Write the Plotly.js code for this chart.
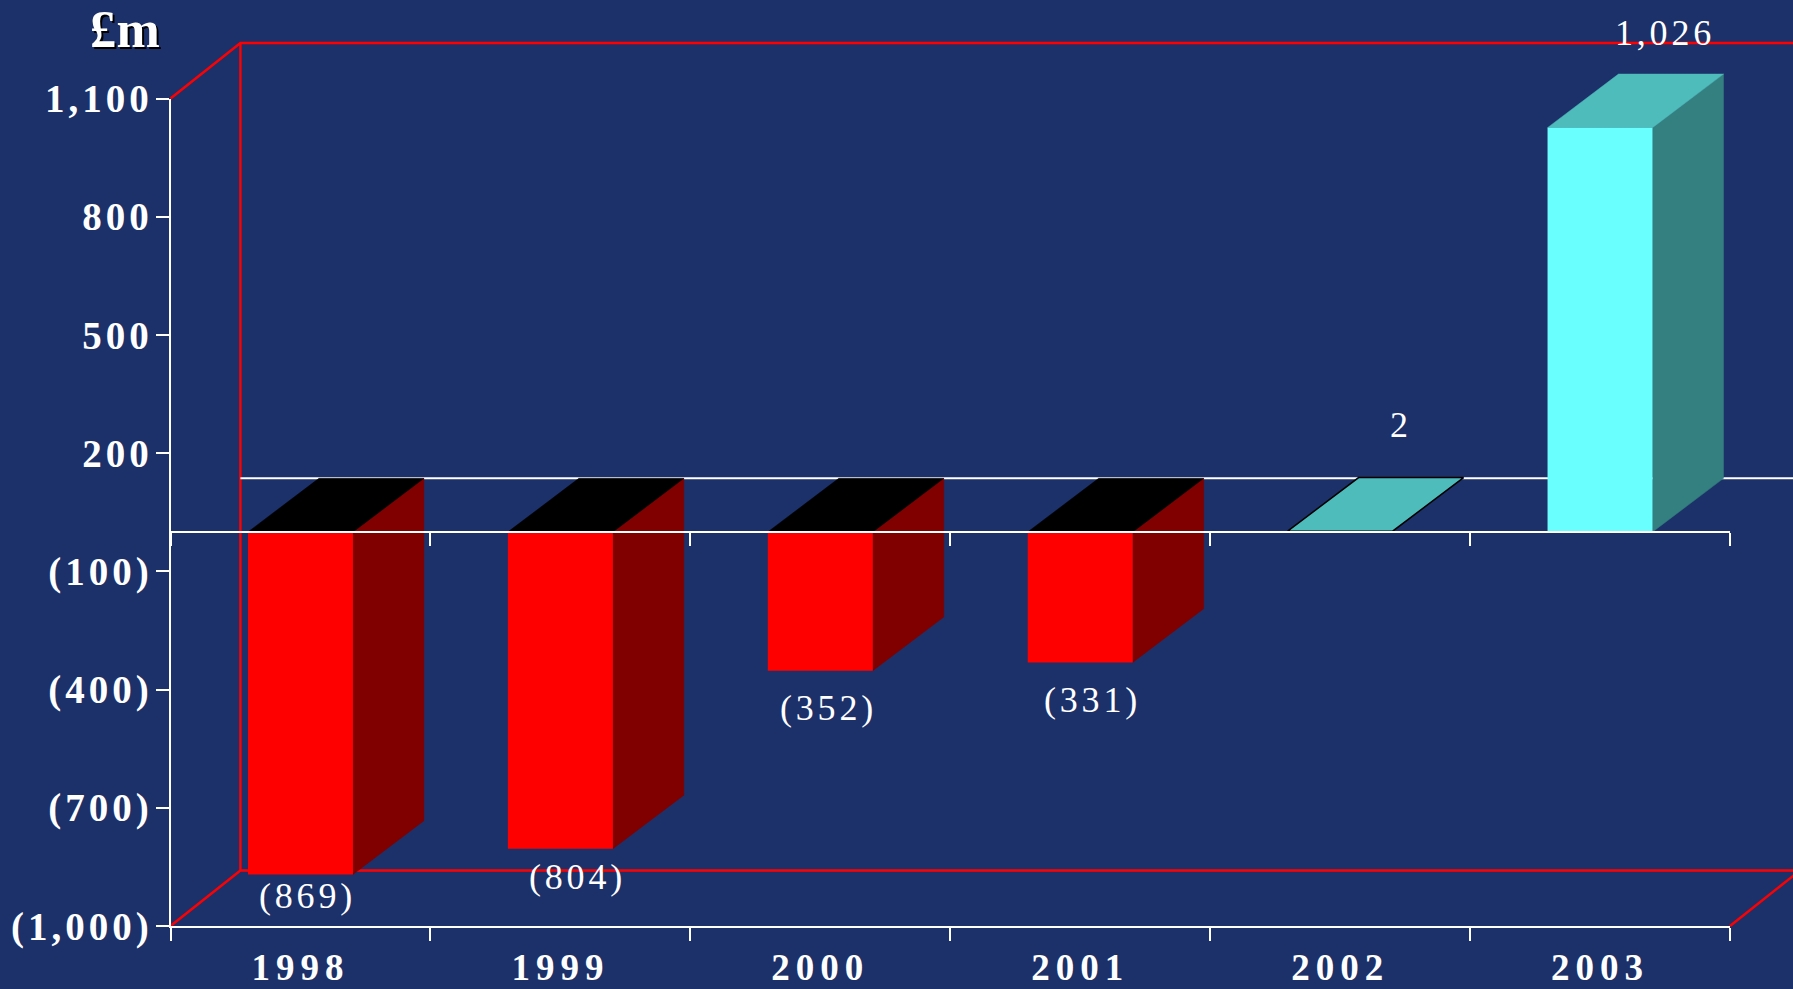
<!DOCTYPE html>
<html>
<head>
<meta charset="utf-8">
<script src="https://cdn.plot.ly/plotly-3.0.1.min.js"></script>
<style>
html,body{margin:0;padding:0;background:#1c3169;overflow:hidden}
.ytick text,.y3tick text{letter-spacing:4px}
.xtick text,.x3tick text{letter-spacing:6px}
.annotation-text{letter-spacing:3.8px}
</style>
</head>
<body>
<div id="chart" style="width:1793px;height:989px"></div>
<script>
var categories = ['1998','1999','2000','2001','2002','2003'];
var values = [-869,-804,-352,-331,2,1026];
var yTicks = [1100,800,500,200,-100,-400,-700,-1000];

// label nudges relative to the end of each bar (axis units)
var labelDx = [0.027,0.065,0.03,0.047,0.235,0.25];
var labelDy = [-54,-71,-96,-96,270,241];

function fmt(v){
  var s = Math.abs(v).toString().replace(/\B(?=(\d{3})+$)/g,',');
  return v < 0 ? '('+s+')' : s;
}

var BG='#1c3169', WHITE='#ffffff', RED='#ff0000';
var W=1793,H=989,L=170.5,R=63,T=98.5,B=63;
var xMin=-0.5,xMax=5.5,yMin=-1000,yMax=1100;
var ppx=(W-L-R)/(xMax-xMin), ppy=(H-T-B)/(yMax-yMin);
var wideX=[xMin-L/ppx,xMin+(W-L)/ppx], wideY=[yMin-B/ppy,yMax+T/ppy];
var domX=[L/W,1-R/W], domY=[B/H,1-T/H];
var barW=0.404, depthX=0.273, depthY=136, frameX=0.269, frameY=141;
var edge=wideX[1]+0.1;
var idx=categories.map(function(c,i){return i;});
var bounds=idx.map(function(i){return i-0.5;}).concat(xMax);

function line(x,y,color,w){
  return {type:'scatter',mode:'lines',x:x,y:y,xaxis:'x',yaxis:'y',
    line:{color:color,width:w},hoverinfo:'skip',showlegend:false};
}
function face(x,y,fill,lc,lw){
  return {type:'scatter',mode:'lines',x:x.concat(x[0]),y:y.concat(y[0]),fill:'toself',fillcolor:fill,
    xaxis:'x2',yaxis:'y2',line:{color:lc,width:lw},hoverinfo:'skip',showlegend:false};
}

var traces=[];
// back wall: bottom layer, on a page-wide pair of axes with the same scale as the chart axes
var fx=xMin+frameX, fTop=yMax+frameY, fBot=yMin+frameY;
traces.push(line([fx,fx],[fBot,fTop],RED,2.4));
traces.push(line([xMin,fx,edge],[yMax,fTop,fTop],RED,2.4));
traces.push(line([xMin,fx,edge],[yMin,fBot,fBot],RED,2.4));
traces.push(line([xMax,xMax+frameX],[yMin,fBot],RED,2.4));
traces.push(line([fx,edge],[depthY,depthY],WHITE,2));

// side and top faces: middle layer
values.forEach(function(v,i){
  var l=i-barW/2, r=i+barW/2, neg=v<0, t=Math.max(v,0);
  var small=Math.abs(v)<10;
  if(!small) traces.push(face([r,r+depthX,r+depthX,r],[0,depthY,v+depthY,v],
    neg?'#800000':'#347f7f',neg?'#800000':'#347f7f',0.5));
  traces.push(face([l,l+depthX,r+depthX,r],[t,t+depthY,t+depthY,t],
    neg?'#000000':'#4fbcbc',small?'#000000':(neg?'#000000':'#4fbcbc'),small?1.5:0.5));
});

// front faces of the bars: top layer, on the visible axes
traces.push({type:'bar',x:idx,y:values,width:barW,xaxis:'x3',yaxis:'y3',
  marker:{color:values.map(function(v){return v<0?'#ff0000':'#69ffff';}),line:{width:0}},
  hoverinfo:'skip',showlegend:false});
// baseline, carrying the second x axis that sits at zero
traces.push({type:'scatter',mode:'lines',x:[xMin,xMax],y:[0,0],xaxis:'x4',yaxis:'y3',
  line:{color:WHITE,width:2},hoverinfo:'skip',showlegend:false});

var annotations=values.map(function(v,i){
  return {x:i+labelDx[i],y:v+labelDy[i],xref:'x2',yref:'y2',text:fmt(v),showarrow:false,
    xanchor:'center',yanchor:'middle',
    font:{family:'Liberation Serif',size:36,color:'#ffffff'}};
});
annotations.push({xref:'paper',yref:'paper',x:125/W,y:1-29/H,xanchor:'center',yanchor:'middle',
  text:'<span style="letter-spacing:0.6px">£m</span>',showarrow:false,
  font:{family:'Liberation Serif',size:52,weight:700,color:'#ffffff',shadow:'2px 2px 0px #000000'}});

var xTickFont={family:'Liberation Serif',size:37,color:'#ffffff',weight:700};
var yTickFont={family:'Liberation Serif',size:39,color:'#ffffff',weight:700};
var hidden={visible:false,showgrid:false,zeroline:false,fixedrange:true};
function wideAxis(range,anchor){
  return Object.assign({type:'linear',range:range,domain:[0,1],anchor:anchor},hidden);
}
var layout={
  width:W,height:H,
  margin:{l:0,r:0,t:0,b:0,pad:0},
  paper_bgcolor:BG,plot_bgcolor:'rgba(0,0,0,0)',
  showlegend:false,barmode:'overlay',
  xaxis:wideAxis(wideX,'y'),yaxis:wideAxis(wideY,'x'),
  xaxis2:wideAxis(wideX,'y2'),yaxis2:wideAxis(wideY,'x2'),
  xaxis3:{type:'linear',domain:domX,anchor:'y3',range:[xMin,xMax],tickmode:'array',tickvals:idx,ticktext:categories,
    ticks:'',showgrid:false,zeroline:false,showline:true,linecolor:WHITE,linewidth:2,
    tickfont:xTickFont,ticklabelstandoff:8,
    minor:{tickmode:'array',tickvals:bounds,ticks:'outside',ticklen:13,tickwidth:2,tickcolor:WHITE,showgrid:false}},
  yaxis3:{type:'linear',domain:domY,anchor:'x3',range:[yMin,yMax],tickmode:'array',tickvals:yTicks,ticktext:yTicks.map(fmt),
    ticks:'outside',ticklen:13,tickwidth:2,tickcolor:WHITE,showgrid:false,zeroline:false,
    showline:true,linecolor:WHITE,linewidth:2,tickfont:yTickFont,ticklabelstandoff:-5},
  xaxis4:{type:'linear',overlaying:'x3',domain:domX,range:[xMin,xMax],anchor:'free',
    position:(B+(-yMin)*ppy)/H,
    showticklabels:false,showgrid:false,zeroline:false,showline:true,linecolor:WHITE,linewidth:2,
    tickmode:'array',tickvals:bounds,ticks:'outside',ticklen:13,tickwidth:2,tickcolor:WHITE},
  annotations:annotations
};
Plotly.newPlot('chart',traces,layout,{displayModeBar:false,staticPlot:true});
</script>
</body>
</html>
